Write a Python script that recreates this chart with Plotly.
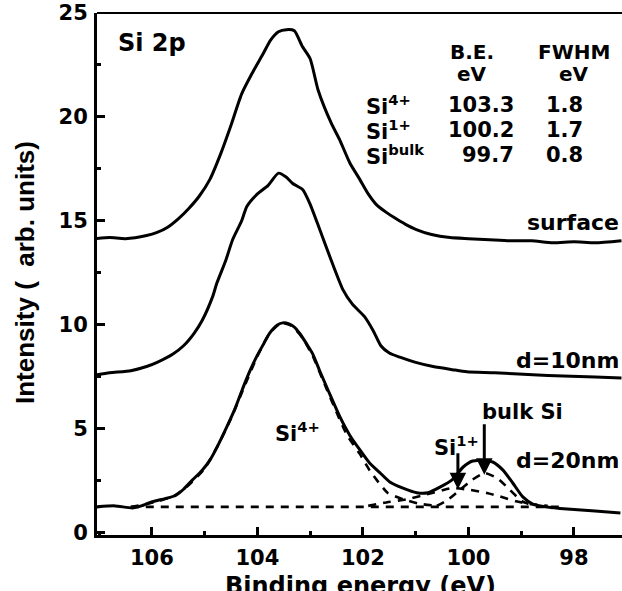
import plotly.graph_objects as go

# ---------------- data ----------------
surface_x = [107.05, 106.8, 106.5, 106.1, 105.9, 105.7, 105.5, 105.3, 105.1, 104.9, 104.7, 104.5,
             104.3, 104.1, 103.9, 103.75, 103.6, 103.45, 103.3, 103.15, 103.0, 102.85, 102.6,
             102.44, 102.25, 102.06, 101.9, 101.75, 101.55, 101.4, 101.2, 101.0, 100.7, 100.35,
             100.0, 99.6, 99.2, 98.8, 98.4, 98.0, 97.6, 97.1]
surface_y = [14.15, 14.2, 14.15, 14.3, 14.45, 14.7, 15.1, 15.6, 16.2, 17.0, 18.2, 19.6,
             21.1, 22.1, 23.0, 23.7, 24.1, 24.2, 24.15, 23.4, 22.8, 21.3, 19.7,
             18.9, 17.8, 17.0, 16.3, 15.8, 15.4, 15.15, 14.85, 14.6, 14.35, 14.2,
             14.15, 14.1, 14.05, 14.05, 13.95, 14.0, 13.95, 14.05]

d10_x = [107.05, 106.8, 106.4, 106.1, 105.9, 105.6, 105.4, 105.2, 105.05, 104.85, 104.77, 104.6,
         104.47, 104.3, 104.2, 104.0, 103.8, 103.6, 103.45, 103.33, 103.14, 103.0, 102.82, 102.6,
         102.38, 102.2, 101.97, 101.8, 101.66, 101.5, 101.3, 101.0, 100.67, 100.3, 100.03, 99.5,
         98.78, 98.2, 97.6, 97.1]
d10_y = [7.6, 7.7, 7.8, 8.0, 8.2, 8.6, 9.0, 9.6, 10.2, 11.35, 12.0, 13.1,
         14.1, 15.0, 15.7, 16.3, 16.7, 17.3, 17.1, 16.8, 16.5, 15.8, 14.6, 13.1,
         11.7, 11.0, 10.4, 9.7, 9.0, 8.65, 8.45, 8.2, 8.0, 7.85, 7.75, 7.7,
         7.6, 7.55, 7.5, 7.45]

d20_x = [107.05, 106.7, 106.37, 106.2, 105.99, 105.75, 105.55, 105.4, 105.23, 105.05, 104.9, 104.75,
         104.58, 104.42, 104.27, 104.14, 104.01, 103.88, 103.77, 103.62, 103.52, 103.4, 103.3, 103.2,
         103.07, 102.95, 102.82, 102.65, 102.44, 102.25, 102.06, 101.87, 101.68, 101.49, 101.24,
         100.98, 100.77, 100.54, 100.31, 100.1, 99.92, 99.72, 99.54, 99.35, 99.16, 98.97, 98.78,
         98.51, 98.13, 97.6, 97.12]
d20_y = [1.25, 1.3, 1.2, 1.3, 1.5, 1.65, 1.8, 2.1, 2.55, 3.0, 3.5, 4.2,
         5.1, 6.0, 7.0, 7.8, 8.5, 9.1, 9.6, 10.0, 10.1, 10.05, 9.9, 9.6,
         9.1, 8.6, 7.8, 6.8, 5.6, 4.7, 4.0, 3.35, 2.9, 2.45, 2.15,
         1.93, 1.93, 2.2, 2.55, 3.17, 3.46, 3.47, 3.41, 3.03, 2.4, 1.73, 1.39,
         1.25, 1.15, 1.05, 0.96]

si4_x = [106.4, 106.0, 105.6, 105.3, 105.0, 104.75, 104.5, 104.27, 104.0, 103.77, 103.55, 103.35,
         103.15, 102.95, 102.75, 102.5, 102.3, 102.06, 101.87, 101.74, 101.53, 101.24, 100.92, 100.6]
si4_y = [1.25, 1.45, 1.75, 2.3, 3.1, 4.2, 5.5, 6.9, 8.5, 9.6, 10.1, 9.95,
         9.4, 8.5, 7.3, 5.8, 4.7, 3.8, 3.0, 2.55, 1.92, 1.62, 1.4, 1.3]

si1_x = [101.9, 101.6, 101.17, 100.8, 100.5, 100.3, 100.0, 99.65, 99.4, 99.1, 98.8, 98.5]
si1_y = [1.3, 1.45, 1.62, 1.85, 2.05, 2.16, 2.08, 1.92, 1.75, 1.52, 1.38, 1.3]

bulk_x = [100.6, 100.39, 100.12, 99.93, 99.69, 99.46, 99.27, 99.08, 98.97, 98.75]
bulk_y = [1.3, 1.59, 2.16, 2.55, 2.88, 2.64, 2.21, 1.73, 1.5, 1.3]

base_x = [106.4, 98.2]
base_y = [1.25, 1.25]

curve_labels = ["surface", "d=10nm", "d=20nm"]

species = ["Si<sup>4+</sup>", "Si<sup>1+</sup>", "Si<sup>bulk</sup>"]
be_ev = [103.3, 100.2, 99.7]
fwhm_ev = [1.8, 1.7, 0.8]

arrow_tip_y = [2.1, 2.8]     # Si1+, bulk Si
arrow_tail_y = [3.9, 5.3]

x_ticks = [106, 104, 102, 100, 98]
y_ticks = [0, 5, 10, 15, 20, 25]

# ---------------- figure ----------------
FONT = "DejaVu Sans"
W, H = 622, 591
L, R, T, B = 97, 0, 13, 56
PW, PH = W - L - R, H - T - B


def px(xpix):
    return (xpix - L) / PW


def py(ypix):
    return (H - B - ypix) / PH


solid = dict(color="black", width=3)
dashed = dict(color="black", width=2.6, dash="8px,7px")

fig = go.Figure()
for xs, ys in [(surface_x, surface_y), (d10_x, d10_y), (d20_x, d20_y)]:
    fig.add_trace(go.Scatter(x=xs, y=ys, mode="lines", line=dict(solid, shape="spline", smoothing=0.6),
                             showlegend=False, hoverinfo="skip"))
for xs, ys in [(base_x, base_y), (si4_x, si4_y), (si1_x, si1_y), (bulk_x, bulk_y)]:
    fig.add_trace(go.Scatter(x=xs, y=ys, mode="lines", line=dict(dashed, shape="spline", smoothing=0.5),
                             showlegend=False, hoverinfo="skip"))

tfont = dict(family=FONT, size=21, color="black", weight="bold")
ann = []


def txt(text, x, y, anchor="center", size=21):
    ann.append(dict(text=text, x=px(x), y=py(y), xref="paper", yref="paper", showarrow=False,
                    xanchor=anchor, yanchor="middle", font=dict(tfont, size=size)))


# panel label and table
txt("Si 2p", 116, 43, "left", 24)
txt("B.E.", 472, 52, "center", 20)
txt("FWHM", 574, 52, "center", 20)
txt("eV", 472, 74, "center", 20)
txt("eV", 574, 74, "center", 20)
for i, (sp, be, fw) in enumerate(zip(species, be_ev, fwhm_ev)):
    yy = 105 + 25 * i
    txt(sp, 364, yy, "left")
    txt(f"{be:.1f}", 516, yy, "right")
    txt(f"{fw:.1f}", 564, yy, "center")

# curve labels
txt(curve_labels[0], 621, 222, "right", 22)
txt(curve_labels[1], 621, 360, "right", 22)
txt(curve_labels[2], 621, 460, "right", 22)
txt("Si<sup>4+</sup>", 297, 432, "center")
txt("Si<sup>1+</sup>", 456, 446, "center")
txt("bulk Si", 522, 412, "center")

# arrows
for bx, ty, ay in zip(be_ev[1:], arrow_tip_y, arrow_tail_y):
    ann.append(dict(x=bx, y=ty, ax=bx, ay=ay, xref="x", yref="y", axref="x", ayref="y",
                    text="", showarrow=True, arrowhead=2, arrowsize=1.1, arrowwidth=3,
                    arrowcolor="black"))

# axis titles
ann.append(dict(text="Binding energy (eV)", x=px(360), y=py(586), xref="paper", yref="paper",
                showarrow=False, xanchor="center", yanchor="middle",
                font=dict(family=FONT, size=24, color="black", weight="bold")))
ann.append(dict(text="Intensity (\u00a0 arb. units)", x=px(25), y=py(273), xref="paper", yref="paper",
                showarrow=False, xanchor="center", yanchor="middle", textangle=-90,
                font=dict(family="Liberation Sans", size=26, color="black", weight="bold")))

fig.update_layout(
    width=W, height=H,
    margin=dict(l=L, r=R, t=T, b=B, pad=0),
    paper_bgcolor="white", plot_bgcolor="white",
    annotations=ann,
    shapes=[dict(type="line", xref="paper", yref="paper", x0=0, x1=1, y0=1, y1=1,
                 line=dict(color="black", width=2))],
    showlegend=False,
)
fig.update_xaxes(range=[107.04, 97.09], tickvals=x_ticks, ticktext=[str(v) for v in x_ticks],
                 ticks="inside", ticklen=8, tickwidth=3, tickcolor="black",
                 minor=dict(ticks="inside", ticklen=4, tickwidth=2.5, dtick=1, tickcolor="black", showgrid=False),
                 showline=True, linewidth=3, linecolor="black", showgrid=False, zeroline=False,
                 tickfont=dict(family=FONT, size=21, color="black", weight="bold"),
                 ticklabelstandoff=2)
fig.update_yaxes(range=[-0.1, 25], tickvals=y_ticks, ticktext=[str(v) for v in y_ticks],
                 ticks="inside", ticklen=8, tickwidth=3, tickcolor="black",
                 minor=dict(ticks="inside", ticklen=4, tickwidth=2.5, dtick=2.5, tickcolor="black", showgrid=False),
                 showline=True, linewidth=3, linecolor="black", showgrid=False, zeroline=False,
                 tickfont=dict(family=FONT, size=21, color="black", weight="bold"),
                 ticklabelstandoff=2)

fig.write_html("out.html")
